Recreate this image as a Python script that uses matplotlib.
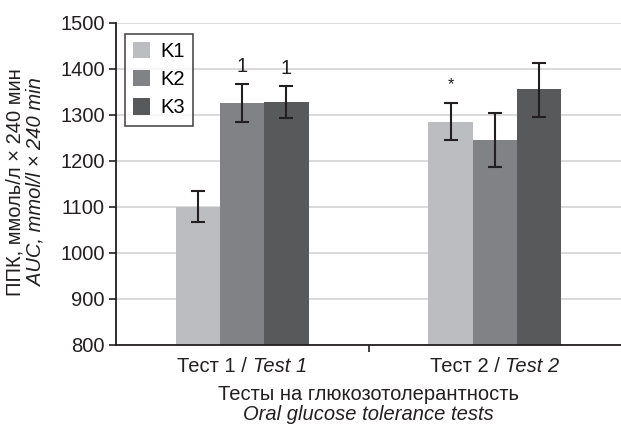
import matplotlib
matplotlib.use("Agg")
import matplotlib.pyplot as plt
import numpy as np
from matplotlib.transforms import offset_copy

plt.rcParams['font.family'] = ['Liberation Sans', 'DejaVu Sans']

categories_ru = ["Тест 1 / ", "Тест 2 / "]
categories_en = ["Test 1", "Test 2"]
series = ["K1", "K2", "K3"]
values = {
    "K1": [1100, 1285],
    "K2": [1327, 1246],
    "K3": [1329, 1357],
}
err_low = {
    "K1": [1068, 1246],
    "K2": [1285, 1188],
    "K3": [1293, 1296],
}
err_high = {
    "K1": [1135, 1327],
    "K2": [1367, 1304],
    "K3": [1362, 1414],
}
annotations = {("K2", 0): "1", ("K3", 0): "1", ("K1", 1): "*"}
yticks = [800, 900, 1000, 1100, 1200, 1300, 1400, 1500]

colors = {"K1": "#bcbdc1", "K2": "#808285", "K3": "#58595b"}
ink = '#231f20'
FS = 14.5

fig = plt.figure(figsize=(6.21, 4.26), dpi=100)
ax = fig.add_axes([116/621, 1-345/426, 1-116/621, (345-23)/426])

x = np.arange(len(categories_ru))
w = 0.175
for i, s in enumerate(series):
    xs = x + (i - 1) * w
    v = np.array(values[s])
    lo = v - np.array(err_low[s])
    hi = np.array(err_high[s]) - v
    ax.bar(xs, v - 800, bottom=800, width=w, color=colors[s], label=s, zorder=2)
    ax.errorbar(xs, v, yerr=[lo, hi], fmt='none', ecolor=ink,
                elinewidth=1.5, capsize=5, capthick=1.5, zorder=3)
    for j in range(len(categories_ru)):
        key = (s, j)
        if key in annotations:
            t = annotations[key]
            if t == "*":
                ax.text(xs[j], err_high[s][j] + 22, t, ha='center', va='bottom',
                        fontsize=12, color=ink)
            else:
                ax.text(xs[j], err_high[s][j] + 18, t, ha='center', va='bottom',
                        fontsize=FS, color=ink)

ax.set_xlim(-0.5, 1.5)
ax.set_ylim(800, 1500)
ax.set_yticks(yticks)
ax.yaxis.grid(True, color='#d4d4d4', linewidth=1.2, zorder=0)
ax.set_axisbelow(True)
ax.set_xticks([0.5])
ax.set_xticklabels([""])

for sp in ['top', 'right']:
    ax.spines[sp].set_visible(False)
for sp in ['left', 'bottom']:
    ax.spines[sp].set_color(ink)
    ax.spines[sp].set_linewidth(1.3)
ax.tick_params(axis='y', length=5, width=1.2, labelsize=FS, colors=ink, pad=3)
ax.tick_params(axis='x', length=5, width=1.2, colors=ink)

leg = ax.legend(loc='upper left', bbox_to_anchor=(0.018, 0.965), fontsize=FS,
                frameon=True, fancybox=False, edgecolor=ink,
                handlelength=0.85, handleheight=0.85, handletextpad=0.5,
                labelspacing=0.45, borderpad=0.4, borderaxespad=0)
leg.get_frame().set_linewidth(1.2)

# category labels: regular + italic pieces, centered together
fig.canvas.draw()
renderer = fig.canvas.get_renderer()
trans = ax.get_xaxis_transform()
for j in range(len(categories_ru)):
    t1 = ax.text(0, 0, categories_ru[j], fontsize=FS, color=ink)
    t2 = ax.text(0, 0, categories_en[j], fontsize=FS, color=ink, style='italic')
    w1 = t1.get_window_extent(renderer).width
    w2 = t2.get_window_extent(renderer).width
    t1.remove(); t2.remove()
    total = w1 + w2
    base = offset_copy(trans, fig=fig, x=-total / 2 * 72 / fig.dpi, y=-27 * 72 / fig.dpi, units='points')
    ax.text(x[j], 0, categories_ru[j], transform=base, fontsize=FS, color=ink,
            ha='left', va='baseline')
    base2 = offset_copy(trans, fig=fig, x=(-total / 2 + w1) * 72 / fig.dpi, y=-27 * 72 / fig.dpi, units='points')
    ax.text(x[j], 0, categories_en[j], transform=base2, fontsize=FS, color=ink,
            style='italic', ha='left', va='baseline')

cx = 0.5 * (116 + 621) / 621
fig.text(cx, 1-394/426, "Тесты на глюкозотолерантность", ha='center',
         va='center', fontsize=FS, color=ink)
fig.text(cx, 1-414/426, "Oral glucose tolerance tests", ha='center',
         va='center', fontsize=FS, style='italic', color=ink)

fig.text(15/621, 1-182/426, "ППК, ммоль/л × 240 мин", rotation=90, ha='center',
         va='center', fontsize=FS, color=ink)
fig.text(36/621, 1-182/426, "AUC, mmol/l × 240 min", rotation=90, ha='center',
         va='center', fontsize=FS, style='italic', color=ink)

fig.savefig("out.png", dpi=100)
